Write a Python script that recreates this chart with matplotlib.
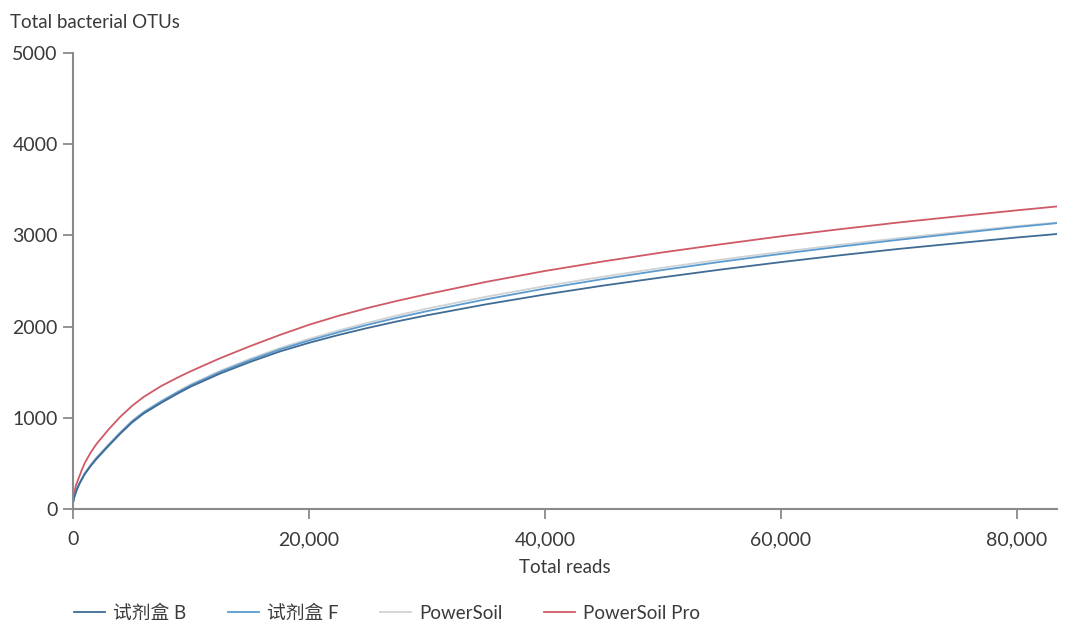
import matplotlib
matplotlib.use("Agg")
import matplotlib.pyplot as plt
from matplotlib.ticker import FuncFormatter

plt.rcParams['font.family'] = ['Lato', 'Noto Sans CJK SC', 'DejaVu Sans']

# === DATA ===
reads = [0, 100, 250, 500, 750, 1000, 1500, 2000, 3000, 4000, 5000, 6000,
         7500, 9000, 10000, 12500, 15000, 17500, 20000, 22500, 25000, 27500,
         30000, 35000, 40000, 45000, 50000, 55000, 60000, 65000, 70000,
         75000, 80000, 84000]

kit_b = [65, 125, 185, 265, 325, 382, 472, 550, 690, 825, 948, 1048,
         1166, 1275, 1343, 1487, 1612, 1726, 1822, 1908, 1986, 2058,
         2124, 2244, 2352, 2451, 2541, 2627, 2707, 2782, 2852,
         2915, 2977, 3022]
kit_f = [70, 130, 190, 270, 330, 390, 480, 560, 700, 835, 960, 1060,
         1180, 1290, 1358, 1505, 1632, 1748, 1847, 1938, 2021, 2098,
         2169, 2299, 2417, 2523, 2621, 2712, 2797, 2877, 2952,
         3023, 3092, 3142]
powersoil = [70, 130, 190, 273, 334, 395, 485, 566, 706, 841, 968, 1068,
             1188, 1298, 1368, 1517, 1646, 1764, 1865, 1958, 2043, 2123,
             2197, 2327, 2444, 2549, 2646, 2736, 2819, 2897, 2970,
             3037, 3102, 3148]
powersoil_pro = [80, 170, 260, 345, 430, 505, 620, 715, 870, 1010, 1130, 1230,
                 1350, 1450, 1512, 1655, 1785, 1907, 2020, 2118, 2205, 2283,
                 2355, 2490, 2610, 2716, 2814, 2904, 2990, 3068, 3142,
                 3209, 3275, 3325]

series_labels = ['试剂盒 B', '试剂盒 F', 'PowerSoil', 'PowerSoil Pro']
series_colors = ['#3f6b94', '#5b9bcf', '#cfd3d6', '#cf5a66']

x_ticks = [0, 20000, 40000, 60000, 80000]
y_ticks = [0, 1000, 2000, 3000, 4000, 5000]

TEXT = '#3a3a3a'
AXIS = '#8a8a8a'

# === PLOT ===
fig = plt.figure(figsize=(10.8, 6.41), dpi=100)
ax = fig.add_axes([73 / 1080, 1 - 509 / 641, (1057 - 73) / 1080, (509 - 53) / 641])

# light ones first so the blues sit on top
order = [2, 3, 1, 0]
all_series = [kit_b, kit_f, powersoil, powersoil_pro]
handles = {}
for i in order:
    line, = ax.plot(reads, all_series[i], color=series_colors[i], lw=1.3,
                    label=series_labels[i], solid_joinstyle='round')
    handles[i] = line

ax.set_xlim(0, 83400)
ax.set_ylim(0, 5000)
ax.set_xticks(x_ticks)
ax.set_yticks(y_ticks)
ax.xaxis.set_major_formatter(FuncFormatter(lambda v, p: f"{int(v):,}"))

for side in ['top', 'right']:
    ax.spines[side].set_visible(False)
for side in ['left', 'bottom']:
    ax.spines[side].set_color(AXIS)
    ax.spines[side].set_linewidth(1.5)
ax.tick_params(colors=AXIS, labelcolor=TEXT, labelsize=14, length=7, width=1.3, direction='out')
ax.tick_params(axis='x', pad=9)
ax.tick_params(axis='y', pad=4)

ax.set_xlabel('Total reads', fontsize=13.5, color=TEXT, labelpad=8)
fig.text(10 / 1080, 1 - 22 / 641, 'Total bacterial OTUs', fontsize=13.5, color=TEXT,
         ha='left', va='center')

leg = fig.legend([handles[i] for i in range(4)], series_labels, loc='center left',
                 bbox_to_anchor=(57 / 1080, 1 - 613 / 641), ncol=4, frameon=False,
                 fontsize=13.5, handlelength=1.65, handletextpad=0.45, columnspacing=2.2)
for t in leg.get_texts():
    t.set_color(TEXT)

fig.savefig('out.png', dpi=100, facecolor='white')
